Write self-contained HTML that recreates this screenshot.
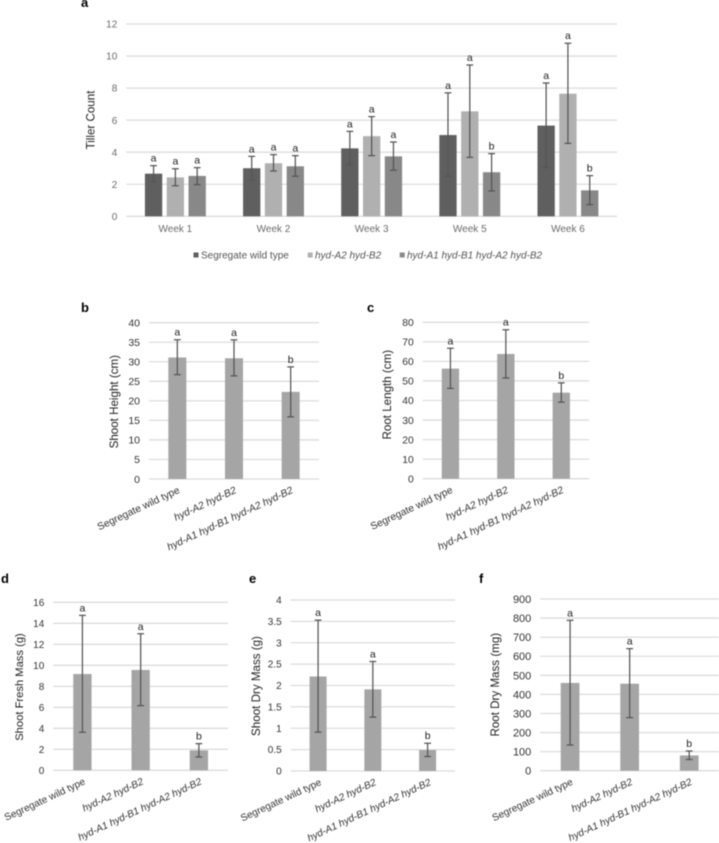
<!DOCTYPE html>
<html lang="en">
<head>
<meta charset="utf-8">
<title>Tiller count and plant mass charts</title>
<style>
html,body{margin:0;padding:0;background:#fff;}
body{width:719px;height:843px;overflow:hidden;}
svg{display:block;filter:blur(0.45px);font-family:"Liberation Sans",Arial,sans-serif;}
.panel-letter{font-weight:bold;font-size:13px;fill:#000;}
.axis-title{font-size:11.6px;fill:#222;text-anchor:middle;}
.legend-text{font-size:10px;fill:#555;}
</style>
</head>
<body>
<svg id="figure" xmlns="http://www.w3.org/2000/svg" width="719" height="843" viewBox="0 0 719 843">
  <text class="panel-letter" x="81" y="7">a</text>
  <text class="panel-letter" x="81" y="312">b</text>
  <text class="panel-letter" x="367" y="312">c</text>
  <text class="panel-letter" x="1" y="583">d</text>
  <text class="panel-letter" x="249" y="583">e</text>
  <text class="panel-letter" x="479" y="583">f</text>

  <text class="axis-title" transform="translate(94.5 120) rotate(-90)">Tiller Count</text>
  <text class="axis-title" transform="translate(118 401.7) rotate(-90)">Shoot Height (cm)</text>
  <text class="axis-title" transform="translate(391 394.7) rotate(-90)">Root Length (cm)</text>
  <text class="axis-title" transform="translate(23 687) rotate(-90)" style="font-size:11.2px">Shoot Fresh Mass (g)</text>
  <text class="axis-title" transform="translate(260 686) rotate(-90)">Shoot Dry Mass (g)</text>
  <text class="axis-title" transform="translate(499 684.7) rotate(-90)">Root Dry Mass (mg)</text>

  <g>
    <rect x="193.5" y="252.5" width="5" height="5" fill="#5f5f5f"/>
    <text class="legend-text" x="201" y="258.5">Segregate wild type</text>
    <rect x="307.7" y="252.5" width="5" height="5" fill="#b0b0b0"/>
    <text class="legend-text" x="315" y="258.5" font-style="italic">hyd-A2 hyd-B2</text>
    <rect x="399.7" y="252.5" width="5" height="5" fill="#888888"/>
    <text class="legend-text" x="407" y="258.5" font-style="italic">hyd-A1 hyd-B1 hyd-A2 hyd-B2</text>
  </g>
</svg>
<script>
// ---------- Panel a data ----------
const tillerWeeks = ['Week 1', 'Week 2', 'Week 3', 'Week 5', 'Week 6'];
const tillerTicks = [0, 2, 4, 6, 8, 10, 12];
const tillerWildType = [2.66, 3.0, 4.24, 5.07, 5.66];
const tillerWildTypeHigh = [3.16, 3.74, 5.3, 7.7, 8.32];
const tillerWildTypeLow = [2.16, 2.26, 3.2, 2.5, 3.04];
const tillerWildTypeLetters = ['a', 'a', 'a', 'a', 'a'];
const tillerDouble = [2.43, 3.31, 5.0, 6.55, 7.65];
const tillerDoubleHigh = [2.97, 3.85, 6.22, 9.44, 10.8];
const tillerDoubleLow = [1.91, 2.83, 3.79, 3.68, 4.55];
const tillerDoubleLetters = ['a', 'a', 'a', 'a', 'a'];
const tillerQuadruple = [2.52, 3.12, 3.74, 2.75, 1.62];
const tillerQuadrupleHigh = [3.04, 3.79, 4.64, 3.91, 2.54];
const tillerQuadrupleLow = [1.98, 2.5, 2.87, 1.58, 0.73];
const tillerQuadrupleLetters = ['a', 'a', 'a', 'b', 'b'];

// ---------- Panels b-f data ----------
const genotypes = ['Segregate wild type', 'hyd-A2 hyd-B2', 'hyd-A1 hyd-B1 hyd-A2 hyd-B2'];
const genotypeItalic = [false, true, true];

const heightTicks = ['0', '5', '10', '15', '20', '25', '30', '35', '40'];
const heightValues = [31.1, 30.9, 22.3];
const heightHigh = [35.65, 35.6, 28.7];
const heightLow = [26.7, 26.4, 15.9];
const heightLetters = ['a', 'a', 'b'];

const rootLengthTicks = ['0', '10', '20', '30', '40', '50', '60', '70', '80'];
const rootLengthValues = [56.3, 63.8, 44];
const rootLengthHigh = [66.7, 76.2, 49];
const rootLengthLow = [46.2, 51.5, 39.2];
const rootLengthLetters = ['a', 'a', 'b'];

const freshMassTicks = ['0', '2', '4', '6', '8', '10', '12', '14', '16'];
const freshMassValues = [9.17, 9.56, 1.9];
const freshMassHigh = [14.76, 13.0, 2.54];
const freshMassLow = [3.62, 6.16, 1.27];
const freshMassLetters = ['a', 'a', 'b'];

const dryMassTicks = ['0', '0.5', '1', '1.5', '2', '2.5', '3', '3.5', '4'];
const dryMassValues = [2.21, 1.91, 0.49];
const dryMassHigh = [3.53, 2.56, 0.65];
const dryMassLow = [0.91, 1.26, 0.34];
const dryMassLetters = ['a', 'a', 'b'];

const rootMassTicks = ['0', '100', '200', '300', '400', '500', '600', '700', '800', '900'];
const rootMassValues = [460, 456, 80];
const rootMassHigh = [788, 640, 103];
const rootMassLow = [135, 278, 59];
const rootMassLetters = ['a', 'a', 'b'];

// ---------- Drawing ----------
const NS = 'http://www.w3.org/2000/svg';
const figure = document.getElementById('figure');

function make(tag, parent, props) {
  const node = document.createElementNS(NS, tag);
  for (const key in props) node.setAttribute(key, props[key]);
  parent.appendChild(node);
  return node;
}

function drawPanel(cfg) {
  const group = make('g', figure, {});
  
  

  const maxTick = Number(cfg.ticks[cfg.ticks.length - 1]);
  const yScale = function (v) { return cfg.bottom - (v / maxTick) * (cfg.bottom - cfg.top); };
  const band = (cfg.right - cfg.left) / cfg.categories.length;
  const xCenter = function (i) { return cfg.left + band * (i + 0.5); };

  cfg.ticks.forEach(function (tick) {
    const y = yScale(Number(tick));
    const grid = make('line', group, { x1: cfg.left, x2: cfg.right, y1: y, y2: y, stroke: '#dcdcdc', 'stroke-width': 1.3 });
    
    
    const label = make('text', group, { x: cfg.left - 9, y: y + cfg.tickSize * 0.36, 'text-anchor': 'end', 'font-size': cfg.tickSize, fill: cfg.tickColor });
    
    
    label.textContent = tick;
  });

  const count = cfg.series.length;
  cfg.series.forEach(function (s, j) {
    const offset = (j - (count - 1) / 2) * cfg.seriesStep;
    s.values.forEach(function (value, i) {
      const cx = xCenter(i) + offset;
      const bar = make('rect', group, { x: cx - cfg.barWidth / 2, y: yScale(value), width: cfg.barWidth, height: cfg.bottom - yScale(value), fill: s.color });
      
      

      const yHigh = yScale(s.high[i]);
      const yLow = yScale(s.low[i]);
      const err = make('path', group, {
        d: 'M' + cx + ' ' + yHigh + 'V' + yLow +
           'M' + (cx - 3.4) + ' ' + yHigh + 'H' + (cx + 3.4) +
           'M' + (cx - 3.4) + ' ' + yLow + 'H' + (cx + 3.4),
        fill: 'none', stroke: '#555', 'stroke-width': 1.25
      });
      
      

      const letter = make('text', group, { x: cx, y: yHigh - 4, 'text-anchor': 'middle', 'font-size': 10.5, fill: '#222' });
      
      
      letter.textContent = s.letters[i];
    });
  });

  cfg.categories.forEach(function (cat, i) {
    const cx = xCenter(i);
    if (cfg.rotated) {
      const px = cx + cfg.labelShift;
      const py = cfg.bottom + 13.5;
      const label = make('text', group, {
        transform: 'translate(' + px + ' ' + py + ') rotate(-25)',
        'text-anchor': 'end', 'font-size': cfg.labelSize, fill: '#333',
        'font-style': cfg.italic[i] ? 'italic' : 'normal'
      });
      
      
      label.textContent = cat;
    } else {
      const label = make('text', group, { x: cx, y: cfg.bottom + 15.5, 'text-anchor': 'middle', 'font-size': 10, fill: '#6a6a6a' });
      
      
      label.textContent = cat;
    }
  });
}

const GREY_BAR = '#a5a5a5';

drawPanel({
  name: 'chart-tiller-count', left: 126.3, right: 617, top: 24, bottom: 216.3,
  ticks: tillerTicks.map(String), categories: tillerWeeks, tickSize: 10, tickColor: '#6a6a6a',
  barWidth: 17.3, seriesStep: 21.8, rotated: false,
  series: [
    { values: tillerWildType, high: tillerWildTypeHigh, low: tillerWildTypeLow, letters: tillerWildTypeLetters, color: '#5f5f5f' },
    { values: tillerDouble, high: tillerDoubleHigh, low: tillerDoubleLow, letters: tillerDoubleLetters, color: '#b0b0b0' },
    { values: tillerQuadruple, high: tillerQuadrupleHigh, low: tillerQuadrupleLow, letters: tillerQuadrupleLetters, color: '#888888' }
  ]
});

drawPanel({
  name: 'chart-shoot-height', left: 149, right: 319, top: 322.7, bottom: 479,
  ticks: heightTicks, categories: genotypes, italic: genotypeItalic, tickSize: 10.5, tickColor: '#333',
  barWidth: 18, seriesStep: 0, rotated: true, labelShift: 3, labelSize: 10.2,
  series: [{ values: heightValues, high: heightHigh, low: heightLow, letters: heightLetters, color: GREY_BAR }]
});

drawPanel({
  name: 'chart-root-length', left: 422.7, right: 589, top: 322.3, bottom: 478.7,
  ticks: rootLengthTicks, categories: genotypes, italic: genotypeItalic, tickSize: 10.3, tickColor: '#333',
  barWidth: 17.3, seriesStep: 0, rotated: true, labelShift: 3, labelSize: 10.2,
  series: [{ values: rootLengthValues, high: rootLengthHigh, low: rootLengthLow, letters: rootLengthLetters, color: GREY_BAR }]
});

drawPanel({
  name: 'chart-shoot-fresh-mass', left: 53.3, right: 228, top: 602.3, bottom: 770.3,
  ticks: freshMassTicks, categories: genotypes, italic: genotypeItalic, tickSize: 10, tickColor: '#333',
  barWidth: 18.3, seriesStep: 0, rotated: true, labelShift: 3.5, labelSize: 10,
  series: [{ values: freshMassValues, high: freshMassHigh, low: freshMassLow, letters: freshMassLetters, color: GREY_BAR }]
});

drawPanel({
  name: 'chart-shoot-dry-mass', left: 290.7, right: 455, top: 600, bottom: 771,
  ticks: dryMassTicks, categories: genotypes, italic: genotypeItalic, tickSize: 10, tickColor: '#333',
  barWidth: 17, seriesStep: 0, rotated: true, labelShift: 4, labelSize: 10,
  series: [{ values: dryMassValues, high: dryMassHigh, low: dryMassLow, letters: dryMassLetters, color: GREY_BAR }]
});

drawPanel({
  name: 'chart-root-dry-mass', left: 540.3, right: 719, top: 599, bottom: 770.7,
  ticks: rootMassTicks, categories: genotypes, italic: genotypeItalic, tickSize: 11, tickColor: '#333',
  barWidth: 18.7, seriesStep: 0, rotated: true, labelShift: 3.5, labelSize: 10,
  series: [{ values: rootMassValues, high: rootMassHigh, low: rootMassLow, letters: rootMassLetters, color: GREY_BAR }]
});
</script>
</body>
</html>
